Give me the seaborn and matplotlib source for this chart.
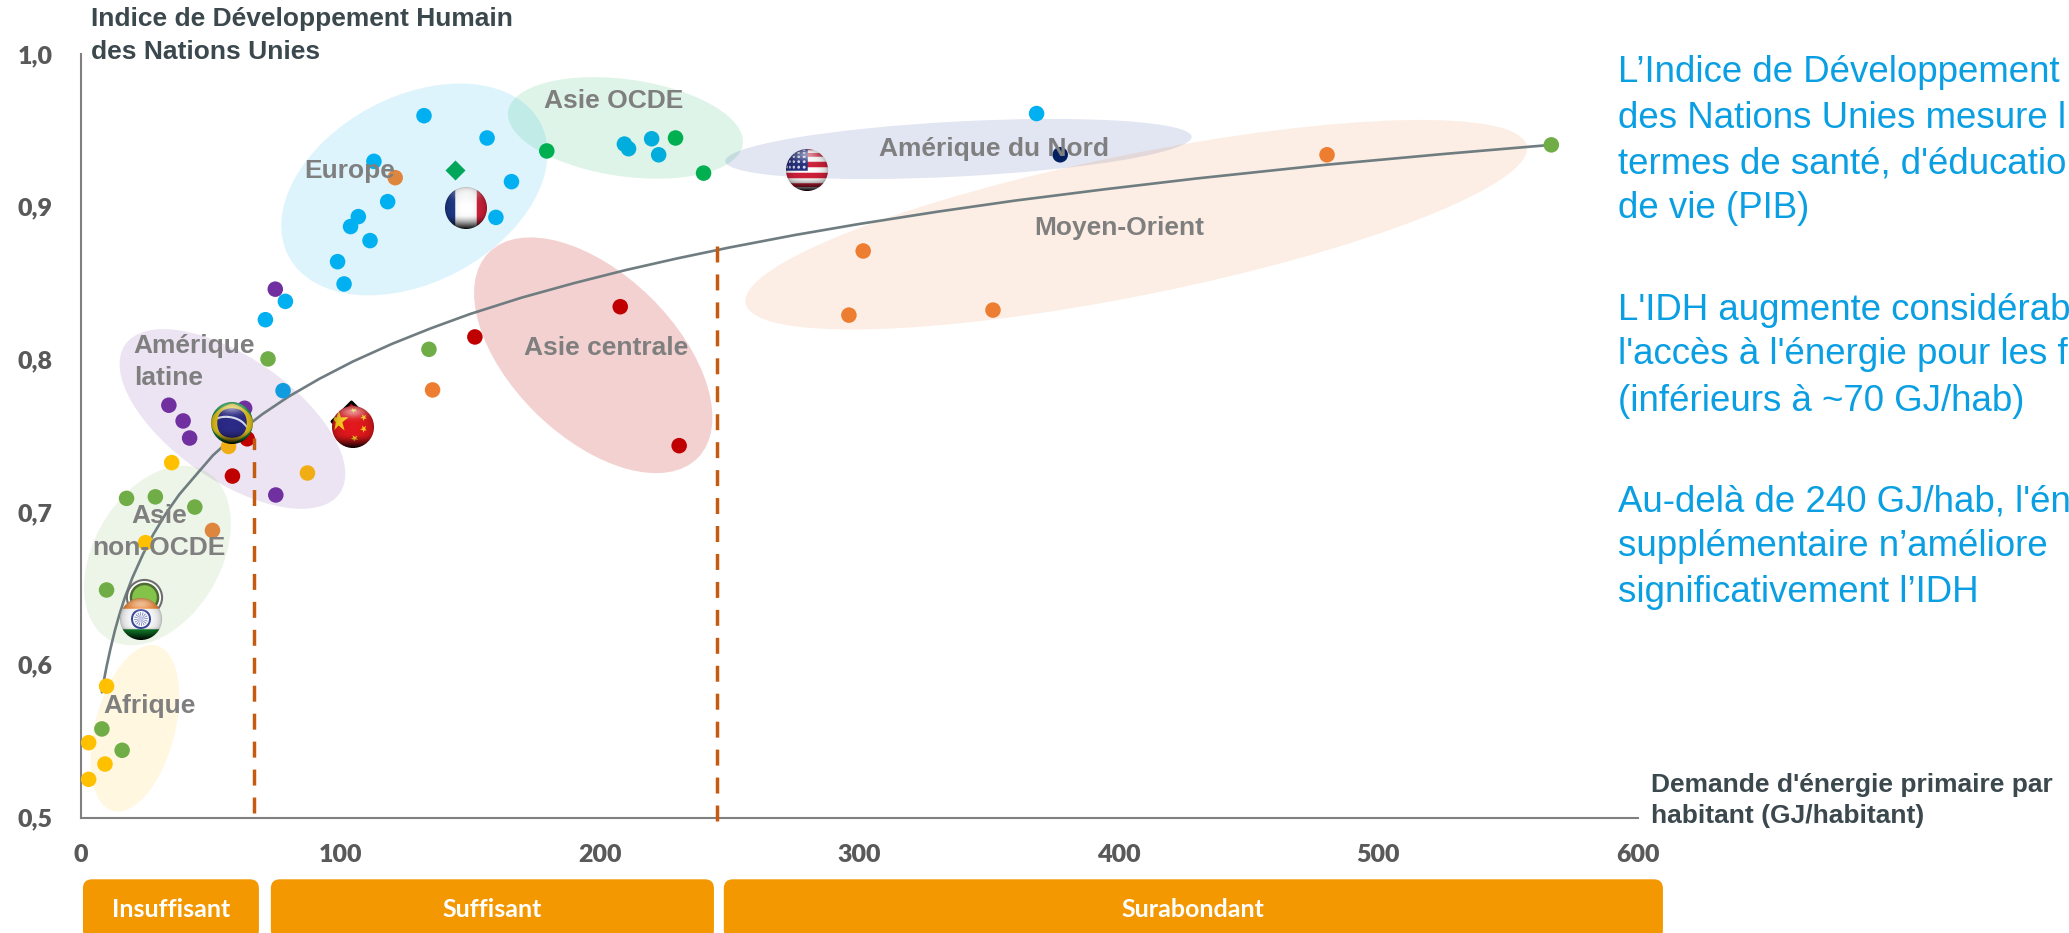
import numpy as np
import pandas as pd
import matplotlib
matplotlib.use("Agg")
import matplotlib.pyplot as plt
import seaborn as sns
from matplotlib.patches import Ellipse, FancyBboxPatch
from matplotlib.path import Path
from matplotlib.transforms import IdentityTransform
from matplotlib.offsetbox import OffsetImage, AnnotationBbox

W, H, DPI = 2069, 933, 100

# --- values: primary energy demand per head (GJ) and human development index ---
europe_x = [132.3, 156.6, 113.0, 166.0, 118.3, 107.0, 104.0, 111.5, 160.0, 99.0, 101.5, 78.9, 71.2, 147.7]
europe_y = [0.9596, 0.945, 0.9297, 0.9164, 0.9033, 0.8935, 0.887, 0.8778, 0.893, 0.864, 0.8494, 0.838, 0.826, 0.906]
europe_edge_x = [78.0]
europe_edge_y = [0.7795]
ocde_green_x = [179.6, 229.2, 240.0]
ocde_green_y = [0.9365, 0.945, 0.922]
ocde_cyan_x = [209.5, 211.1, 220.0, 222.7]
ocde_cyan_y = [0.941, 0.938, 0.9445, 0.934]
latam_x = [75.0, 34.0, 39.5, 42.0, 63.2, 75.2]
latam_y = [0.846, 0.77, 0.7597, 0.7485, 0.768, 0.7112]
green_x = [72.2, 134.2, 17.7, 28.8, 44.0, 10.0, 8.2, 16.0, 566.6]
green_y = [0.8003, 0.8066, 0.709, 0.71, 0.7033, 0.649, 0.558, 0.544, 0.9405]
central_x = [151.9, 207.9, 230.6, 64.2, 58.5]
central_y = [0.8147, 0.8345, 0.7435, 0.748, 0.7236]
gulf_x = [135.6, 480.2, 301.5, 296.0, 351.5]
gulf_y = [0.78, 0.934, 0.871, 0.829, 0.8323]
gulf_soft_x = [121.2, 50.8]
gulf_soft_y = [0.919, 0.688]
africa_x = [35.1, 10.0, 3.1, 9.4, 3.1, 25.0]
africa_y = [0.7324, 0.586, 0.549, 0.535, 0.525, 0.68]
amber_x = [57.0, 87.4]
amber_y = [0.743, 0.7256]
north_x = [368.3]
north_y = [0.961]
navy_x = [377.4]
navy_y = [0.934]

korea_x, korea_y = [144.4], [0.9238]
china_peak_x, china_peak_y = [104.2], [0.7595]
india_ring_x, india_ring_y = [24.3], [0.6443]

flag_names = ["fr", "us", "br", "cn", "in"]
flag_x = [148.6, 280.0, 58.3, 104.8, 23.2]
flag_y = [0.899, 0.9238, 0.7585, 0.7555, 0.63]

trend_x = [8.2, 9, 10, 11.5, 13.2, 15, 17, 20, 24, 28, 33, 38, 44, 51, 60, 70, 80, 92, 105, 120,
           135, 150, 170, 190, 210, 230, 250, 275, 300, 330, 360, 395, 430, 480, 525, 566.6]
trend_y = [0.582, 0.5899, 0.5988, 0.6105, 0.6224, 0.6332, 0.6438, 0.6572, 0.6723, 0.6854, 0.6994,
           0.7115, 0.7234, 0.7372, 0.7510, 0.7641, 0.7755, 0.7873, 0.7987, 0.8102, 0.8204, 0.8297,
           0.8405, 0.8499, 0.8585, 0.8662, 0.8733, 0.8814, 0.8887, 0.8967, 0.9040, 0.9115, 0.9185,
           0.9275, 0.9345, 0.9405]

rule_x = [66.9, 245.1]
rule_top = [0.7485, 0.875]
rule_bottom = [0.503, 0.498]

x_ticks = [0, 100, 200, 300, 400, 500, 600]
y_ticks = [0.5, 0.6, 0.7, 0.8, 0.9, 1.0]
y_labels = ["0,5", "0,6", "0,7", "0,8", "0,9", "1,0"]

band_names = ["Insuffisant", "Suffisant", "Surabondant"]
band_start = [0.9, 73.3, 247.8]
band_end = [68.7, 244.0, 609.6]

# region name, centre (x, y), width and height in pixels, tilt, colour, opacity
region_names = ["Europe", "Asie OCDE", "Amérique du Nord", "Moyen-Orient",
                "Asie centrale", "Amérique latine", "Asie non-OCDE", "Afrique"]
region_cx = [128.6, 209.9, 338.2, 406.7, 197.5, 58.5, 29.6, 20.9]
region_cy = [0.9113, 0.9516, 0.9378, 0.8882, 0.8027, 0.7610, 0.6716, 0.5584]
region_w = [285, 237, 467, 797, 293, 261, 194, 171]
region_h = [186, 97, 55, 141, 163, 123, 127, 80]
region_tilt = [28, -8, 3, 11.4, -44.4, -34.7, 59.9, 75.3]
region_col = ["#00B0F0", "#00B050", "#1F3F9F", "#ED7D31", "#C00000", "#7030A0", "#70AD47", "#FFC000"]
region_alpha = [0.13, 0.13, 0.13, 0.13, 0.18, 0.13, 0.12, 0.12]


def sphere(kind, size=42, ss=4):
    """Render a shaded flag globe as an RGBA array."""
    n = size * ss
    t = (np.arange(n) + 0.5) / n * 2 - 1
    u, v = np.meshgrid(t, -t)
    r2 = u ** 2 + v ** 2
    inside = r2 <= 1
    z = np.sqrt(np.clip(1 - r2, 0, 1))
    fx = np.arcsin(np.clip(u, -1, 1)) * 2 / np.pi * 1.05
    fy = np.arcsin(np.clip(v, -1, 1)) * 2 / np.pi * 1.05
    img = np.ones((n, n, 3))

    def paint(mask, col):
        img[mask] = matplotlib.colors.to_rgb(col)

    def star(cx, cy, rad, col, turn=0.0):
        a = np.pi / 2 + turn + np.arange(10) * np.pi / 5
        rr = np.where(np.arange(10) % 2 == 0, rad, rad * 0.4)
        p = Path(np.c_[cx + rr * np.cos(a), cy + rr * np.sin(a)])
        m = p.contains_points(np.c_[fx.ravel(), fy.ravel()]).reshape(n, n)
        paint(m, col)

    if kind == "fr":
        paint(fx < -0.36, "#1F3A8A")
        paint(fx > 0.36, "#D0213A")
    elif kind == "us":
        band = np.floor((fy + 1) / 2 * 11).astype(int) % 2 == 0
        paint(band, "#D0203A")
        canton = (fx < 0.02) & (fy > -0.02)
        paint(canton, "#25307F")
        dots = (np.mod(fx * 5.5, 1) - 0.5) ** 2 + (np.mod(fy * 5.5, 1) - 0.5) ** 2 < 0.07
        paint(canton & dots, "#D8D8EC")
    elif kind == "br":
        paint(np.ones_like(fx, bool), "#14A04A")
        paint(np.abs(fx) / 1.05 + np.abs(fy) / 0.8 < 1, "#E8C81C")
        paint(fx ** 2 + fy ** 2 < 0.52 ** 2, "#2B2A86")
        paint((np.abs(np.hypot(fx + 0.2, fy + 0.75) - 0.95) < 0.035) & (fx ** 2 + fy ** 2 < 0.52 ** 2), "#D9DCEB")
    elif kind == "cn":
        paint(np.ones_like(fx, bool), "#E2181C")
        star(-0.5, 0.2, 0.38, "#FFD21E")
        for cx, cy in [(0.02, 0.62), (0.36, 0.32), (0.36, -0.06), (0.05, -0.38)]:
            star(cx, cy, 0.13, "#FFD21E", 0.5)
    elif kind == "in":
        paint(fy > 0.34, "#F5852B")
        paint(fy < -0.34, "#128A2E")
        rho = np.hypot(fx, fy)
        paint((rho < 0.33) & (rho > 0.26), "#3B4A9E")
        paint((rho < 0.22) & (np.mod(np.arctan2(fy, fx) * 8 / np.pi, 1) < 0.4), "#7C86C4")

    # shading: rim falloff, dark underside and a soft highlight near the top
    shade = 0.5 + 0.5 * z ** 0.5
    under = np.clip((-v - 0.35) / 0.65, 0, 1) ** 1.5
    shade = shade * (1 - 0.95 * under)
    img = img * shade[..., None]
    glow = 0.5 * np.exp(-(u ** 2 / 0.35 + (v - 0.72) ** 2 / 0.07))
    img = img + (1 - img) * glow[..., None]
    rgba = np.dstack([img, inside.astype(float)])
    # box-filter down to the final pixel size, weighting colour by coverage
    alpha = rgba[..., 3].reshape(size, ss, size, ss).mean(axis=(1, 3))
    premult = (rgba[..., :3] * rgba[..., 3:4]).reshape(size, ss, size, ss, 3).mean(axis=(1, 3))
    colour = premult / np.maximum(alpha[..., None], 1e-6)
    return np.clip(np.dstack([colour, alpha]), 0, 1)


sns.set_theme(style="white")
plt.rcParams["font.family"] = ["Liberation Sans", "DejaVu Sans"]

fig = plt.figure(figsize=(W / DPI, H / DPI), dpi=DPI, facecolor="white")
ax = fig.add_axes([80.6 / W, 1 - 817.5 / H, (1638 - 80.6) / W, (817.5 - 54) / H])
ax.set_xlim(0, 600)
ax.set_ylim(0.5, 1.0)
ax.set_facecolor("none")

# regional clouds
for cx, cy, w, h, tilt, col, alpha in zip(region_cx, region_cy, region_w, region_h,
                                          region_tilt, region_col, region_alpha):
    px, py = ax.transData.transform((cx, cy))
    ax.add_patch(Ellipse((px, py), w, h, angle=tilt, transform=IdentityTransform(),
                         facecolor=col, alpha=alpha, edgecolor="none", zorder=1, clip_on=False))

# trend across countries
trend = pd.DataFrame({"x": trend_x, "y": trend_y})
sns.lineplot(data=trend, x="x", y="y", ax=ax, color="#6F7C80", lw=1.9, zorder=2.5,
             estimator=None, sort=False)

# countries, one colour per group
groups = [
    ("Europe", europe_x, europe_y, "#00B0F0"),
    ("Bord", europe_edge_x, europe_edge_y, "#109CDF"),
    ("OCDE", ocde_green_x, ocde_green_y, "#00B050"),
    ("OCDE bleu", ocde_cyan_x, ocde_cyan_y, "#00ADDC"),
    ("Latine", latam_x, latam_y, "#7030A0"),
    ("Vert", green_x, green_y, "#70AD47"),
    ("Centrale", central_x, central_y, "#C00000"),
    ("Golfe", gulf_x, gulf_y, "#ED7D31"),
    ("Golfe doux", gulf_soft_x, gulf_soft_y, "#DE853E"),
    ("Afrique", africa_x, africa_y, "#FFC000"),
    ("Ambre", amber_x, amber_y, "#F0AE14"),
    ("Nord", north_x, north_y, "#00B0F0"),
    ("Marine", navy_x, navy_y, "#002060"),
]
points = pd.concat([pd.DataFrame({"x": gx, "y": gy, "groupe": name}) for name, gx, gy, _ in groups])
palette = {name: col for name, _, _, col in groups}
sns.scatterplot(data=points, x="x", y="y", hue="groupe", palette=palette, s=125, linewidth=0,
                legend=False, ax=ax, zorder=3, clip_on=False)

# highlighted markers
sns.scatterplot(x=korea_x, y=korea_y, marker="D", s=104, color="#00A65A", linewidth=0, ax=ax, zorder=3)
sns.scatterplot(x=china_peak_x, y=china_peak_y, marker="D", s=400, color="#D01010",
                edgecolor="black", linewidth=2, ax=ax, zorder=3)
sns.scatterplot(x=india_ring_x, y=india_ring_y, s=640, color="white", edgecolor="#6E6E6E",
                linewidth=1.5, ax=ax, zorder=3)
sns.scatterplot(x=india_ring_x, y=india_ring_y, s=380, color="#84C34A", edgecolor="#4F6B35",
                linewidth=1.8, ax=ax, zorder=3.1)

# threshold rules
for xr, top, bottom in zip(rule_x, rule_top, rule_bottom):
    ax.plot([xr, xr], [bottom, top], color="#C55A11", lw=2.5, zorder=3.4, clip_on=False,
            linestyle=(0, (4.6, 3.45)), dash_capstyle="butt")

# flag globes
for name, fx_, fy_ in zip(flag_names, flag_x, flag_y):
    box = OffsetImage(sphere(name), zoom=72 / DPI, interpolation="nearest", resample=False)
    ax.add_artist(AnnotationBbox(box, (fx_, fy_), frameon=False, pad=0, zorder=4,
                                 annotation_clip=False))

# axes
sns.despine(ax=ax)
for side in ("left", "bottom"):
    ax.spines[side].set_color("#808080")
    ax.spines[side].set_linewidth(1.5)
ax.set_xticks(x_ticks)
ax.set_yticks(y_ticks)
ax.set_yticklabels(y_labels)
ax.set_xlabel("")
ax.set_ylabel("")
ax.tick_params(axis="x", length=0, pad=19)
ax.tick_params(axis="y", length=0, pad=20)
for lab in ax.get_xticklabels() + ax.get_yticklabels():
    lab.set_fontfamily(["Lato", "DejaVu Sans"])
    lab.set_fontweight("heavy")
    lab.set_fontsize(18)
    lab.set_color("#595959")


def place(x, y, s, **kw):
    """Write text at a position measured in pixels from the top-left corner."""
    kw.setdefault("va", "center")
    return fig.text(x / W, 1 - y / H, s, **kw)


# regional labels
label_style = dict(fontsize=19, fontweight="bold", color="#7F7F7F", zorder=6)
place(349.5, 171, "Europe", ha="center", **label_style)
place(613.5, 101, "Asie OCDE", ha="center", **label_style)
place(133.7, 346, "Amérique", ha="left", **label_style)
place(133.7, 378, "latine", ha="left", **label_style)
place(606, 348, "Asie centrale", ha="center", **label_style)
place(159, 516, "Asie", ha="center", **label_style)
place(159, 548, "non-OCDE", ha="center", **label_style)
place(150, 706.5, "Afrique", ha="center", **label_style)
place(994, 149, "Amérique du Nord", ha="center", **label_style)
place(1119, 228, "Moyen-Orient", ha="center", **label_style)

# axis titles
title_style = dict(fontsize=19, fontweight="bold", color="#3B484D", ha="left")
place(90.8, 19, "Indice de Développement Humain", **title_style)
place(90.8, 52, "des Nations Unies", **title_style)
xtitle_style = dict(fontsize=19, fontweight="bold", color="#3B484D", ha="left")
place(1651, 785, "Demande d'énergie primaire par", **xtitle_style)
place(1651, 816.5, "habitant (GJ/habitant)", **xtitle_style)

# commentary column, as far as the canvas shows it
side_style = dict(fontsize=26.4, color="#0A9FE2", ha="left")
side_lines = [
    (72.5, "L’Indice de Développement"),
    (118.5, "des Nations Unies mesure l"),
    (163.5, "termes de santé, d'éducatio"),
    (208.5, "de vie (PIB)"),
    (310, "L'IDH augmente considérab"),
    (355, "l'accès à l'énergie pour les f"),
    (401, "(inférieurs à ~70 GJ/hab)"),
    (502, "Au-delà de 240 GJ/hab, l'én"),
    (546.5, "supplémentaire n’améliore"),
    (592.5, "significativement l’IDH"),
]
for ypos, line in side_lines:
    place(1618, ypos, line, **side_style)

# adequacy bands under the axis
for name, x0, x1 in zip(band_names, band_start, band_end):
    p0 = ax.transData.transform((x0, 0.5))[0]
    p1 = ax.transData.transform((x1, 0.5))[0]
    ax.add_patch(FancyBboxPatch((p0, -6), p1 - p0, H - 879.3 + 6,
                                boxstyle="round,pad=0,rounding_size=9",
                                transform=IdentityTransform(), facecolor="#F39800",
                                edgecolor="none", clip_on=False, zorder=2))
    place((p0 + p1) / 2, 909.5, name, ha="center", fontsize=18, fontweight="bold",
          color="white", family=["Lato", "DejaVu Sans"])

fig.savefig("out.png", dpi=DPI, facecolor="white")
